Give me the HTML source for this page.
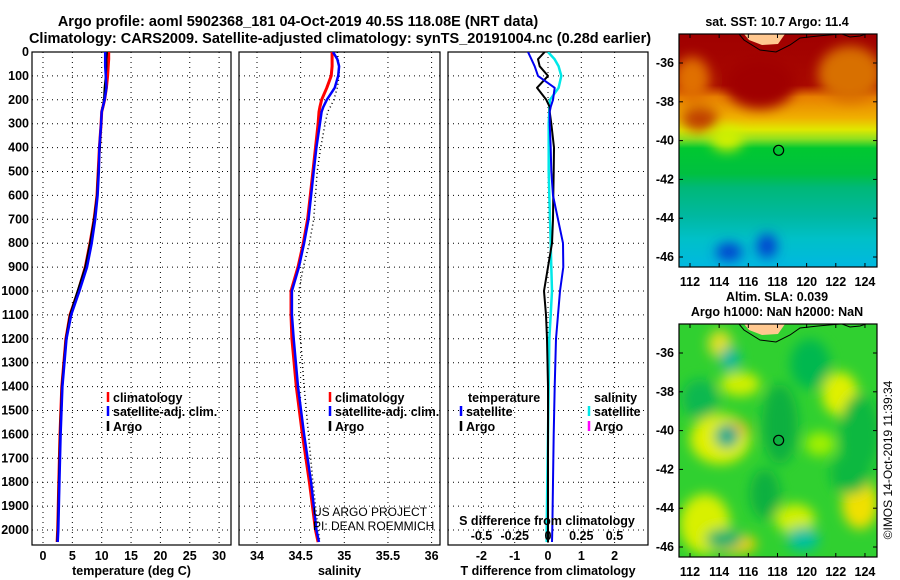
<!DOCTYPE html>
<html><head><meta charset="utf-8">
<style>
html,body{margin:0;padding:0;background:#fff;width:900px;height:580px;overflow:hidden;}
svg{display:block;font-family:"Liberation Sans",Arial,sans-serif;overflow:hidden;}
.b{font-weight:bold;}
</style></head>
<body>
<svg id="chart" width="900" height="580" viewBox="0 0 900 580" xmlns="http://www.w3.org/2000/svg">
<defs>
<clipPath id="cp1"><rect x="32" y="52" width="199" height="493"/></clipPath>
<clipPath id="cp2"><rect x="239" y="52" width="201" height="493"/></clipPath>
<clipPath id="cp3"><rect x="448" y="52" width="200" height="493"/></clipPath>
<clipPath id="cm1"><rect x="679" y="34" width="198" height="233"/></clipPath>
<clipPath id="cm2"><rect x="679" y="324" width="198" height="233"/></clipPath>
<linearGradient id="sstg" x1="0" y1="0" x2="0" y2="1">
<stop offset="0" stop-color="#a00000"/><stop offset="0.22" stop-color="#a80800"/>
<stop offset="0.27" stop-color="#e88000"/><stop offset="0.36" stop-color="#f0b000"/>
<stop offset="0.41" stop-color="#e0e800"/><stop offset="0.45" stop-color="#90e020"/>
<stop offset="0.49" stop-color="#00c830"/><stop offset="0.60" stop-color="#00c040"/>
<stop offset="0.66" stop-color="#00b878"/><stop offset="0.78" stop-color="#00b8a0"/>
<stop offset="0.88" stop-color="#00c0c8"/><stop offset="1" stop-color="#00b8e0"/></linearGradient>
<filter id="bl" x="-50%" y="-50%" width="200%" height="200%"><feGaussianBlur stdDeviation="6"/></filter>
</defs>
<text class="b" x="298" y="26" font-size="14.5" text-anchor="middle">Argo profile: aoml 5902368_181 04-Oct-2019 40.5S 118.08E (NRT data)</text>
<text class="b" x="340" y="43" font-size="14.5" text-anchor="middle">Climatology: CARS2009. Satellite-adjusted climatology: synTS_20191004.nc (0.28d earlier)</text>
<g id="axes"></g>
<g id="maps"></g>
<text x="892" y="460" font-size="12" text-anchor="middle" transform="rotate(-90 892 460)">©IMOS 14-Oct-2019 11:39:34</text>
</svg>
<script>
const depths = [0,30,60,100,150,200,230,250,300,400,500,600,700,800,900,1000,1100,1200,1400,1600,1800,2000,2050];
const tempClim = [11.2,11.2,11.1,11.0,10.8,10.5,10.2,10.0,9.9,9.6,9.4,9.2,8.7,8.0,7.2,6.0,4.6,3.9,3.2,2.9,2.7,2.5,2.4];
const tempSat  = [10.6,10.6,10.6,10.7,10.8,10.5,10.2,10.0,9.9,9.6,9.5,9.3,8.9,8.3,7.5,6.2,4.8,4.0,3.3,3.0,2.8,2.6,2.5];
const tempArgo = [10.9,10.8,10.8,10.7,10.5,10.4,10.2,10.0,9.9,9.7,9.4,9.2,8.7,8.0,7.2,5.9,4.6,3.9,3.2,2.9,2.7,2.5,2.4];
const salClim = [34.86,34.86,34.86,34.85,34.80,34.74,34.72,34.71,34.70,34.67,34.64,34.61,34.58,34.53,34.47,34.39,34.39,34.40,34.45,34.52,34.60,34.67,34.70];
const salSat  = [34.87,34.92,34.94,34.93,34.89,34.80,34.76,34.74,34.72,34.68,34.65,34.62,34.59,34.54,34.48,34.40,34.40,34.42,34.47,34.54,34.62,34.68,34.71];
const salArgo = [34.92,34.93,34.94,34.94,34.92,34.88,34.84,34.81,34.78,34.73,34.69,34.67,34.65,34.60,34.53,34.48,34.48,34.50,34.54,34.59,34.64,34.70,34.72];
const dTsat  = [-0.6,-0.5,-0.4,-0.3,0.2,0.15,0.08,0.05,0.05,0.08,0.1,0.15,0.3,0.45,0.46,0.36,0.3,0.24,0.2,0.17,0.15,0.13,0.12];
const dTargo = [-0.1,-0.3,-0.25,0,-0.33,-0.05,0.05,0.05,0.1,0.18,0.17,0.16,0.15,0.12,0,-0.12,-0.06,-0.03,0,0,0,0,0];
const dSsat  = [0,0.05,0.08,0.1,0.08,0.015,0.01,0.01,0.005,0.005,0.005,0.01,0.015,0.02,0.025,0.03,0.02,0.01,0.005,0,-0.005,-0.01,-0.01];
const depthTicks = [0,100,200,300,400,500,600,700,800,900,1000,1100,1200,1300,1400,1500,1600,1700,1800,1900,2000];
const tTicks = [0,5,10,15,20,25,30];
const sTicks = [34,34.5,35,35.5,36];
const dtTicks = [-2,-1,0,1,2];
const dsTicks = [-0.5,-0.25,0,0.25,0.5];
const dsTickLabels = ['-0.5','-0.25','0','0.25','0.5'];
const latTicks = [-36,-38,-40,-42,-44,-46];
const lonTicks = [112,114,116,118,120,122,124];

const NS="http://www.w3.org/2000/svg";
const axes=document.getElementById('axes');
function el(tag,attrs,parent,txt){const e=document.createElementNS(NS,tag);for(const k in attrs)e.setAttribute(k,attrs[k]);if(txt!==undefined)e.textContent=txt;(parent||axes).appendChild(e);return e;}
const yD=d=>52+d*0.239;
const xT=t=>43+t*5.87;
const xS=s=>257+(s-34)*87.3;
const xDT=v=>548+v*33.3;
const xDS=v=>548+v*133;

const panels=[{x:32,w:199,ticks:tTicks,f:xT,lab:'temperature (deg C)',name:'temperature-panel'},
{x:239,w:201,ticks:sTicks,f:xS,lab:'salinity',name:'salinity-panel'},
{x:448,w:200,ticks:dtTicks,f:xDT,lab:'T difference from climatology',name:'difference-panel'}];
panels.forEach(p=>{
  const g=el('g',{});
  
  
  depthTicks.forEach(d=>{const l=el('line',{x1:p.x,x2:p.x+p.w,y1:yD(d),y2:yD(d),stroke:'#000','stroke-width':1,'stroke-dasharray':'1,4'},g);
    
    });
  p.ticks.forEach((t,i)=>{const x=p.f(t);
    const l=el('line',{x1:x,x2:x,y1:52,y2:545,stroke:'#000','stroke-width':1,'stroke-dasharray':'1,4'},g);
    
    
    const tx=el('text',{x:x,y:560,'font-size':12.5,'text-anchor':'middle',class:'b'},g,String(t));
    
    });
  const r=el('rect',{x:p.x,y:52,width:p.w,height:493,fill:'none',stroke:'#000','stroke-width':1.2},g);
  
  
  const at=el('text',{x:p.x+p.w/2,y:575,'font-size':12.5,'text-anchor':'middle',class:'b'},g,p.lab);
  
  
});
depthTicks.forEach(d=>{const t=el('text',{x:29,y:yD(d)+4,'font-size':12.5,'text-anchor':'end',class:'b'},axes,String(d));
  
  });

function line(vals,f,clip,color,w,dash,name){
  const pts=vals.map((v,i)=>f(v).toFixed(1)+','+yD(depths[i]).toFixed(1)).join(' ');
  const a={points:pts,fill:'none',stroke:color,'stroke-width':w,'clip-path':'url(#'+clip+')','stroke-linejoin':'round'};
  if(dash)a['stroke-dasharray']=dash;
  const pl=el('polyline',a);
  
  
}
line(tempClim,xT,'cp1','#f00',3,null,'temperature-climatology-line');
line(tempArgo,xT,'cp1','#000',2,null,'temperature-argo-line');
line(tempSat,xT,'cp1','#00f',2.5,null,'temperature-satellite-line');
line(salClim,xS,'cp2','#f00',3,null,'salinity-climatology-line');
line(salArgo,xS,'cp2','#000',1.5,'1,3','salinity-argo-line');
line(salSat,xS,'cp2','#00f',2.5,null,'salinity-satellite-line');
line(dSsat,xDS,'cp3','#00e8e8',2.5,null,'salinity-satellite-difference-line');
line(dTargo,xDT,'cp3','#000',2,null,'temperature-argo-difference-line');
line(dTsat,xDT,'cp3','#0000f0',2,null,'temperature-satellite-difference-line');

const sdt=el('text',{x:547,y:525,'font-size':12.5,'text-anchor':'middle',class:'b'},axes,'S difference from climatology');


dsTicks.forEach((v,i)=>{const t=el('text',{x:xDS(v),y:540,'font-size':12.5,'text-anchor':'middle',class:'b'},axes,dsTickLabels[i]);
  
  });

function legend(x,y,color,label,name){
  const g=el('g',{});
  
  
  el('line',{x1:x,x2:x,y1:y-10,y2:y,stroke:color,'stroke-width':2.5},g);
  el('text',{x:x+5,y:y,'font-size':12.5,class:'b'},g,label);
}
legend(108,402,'#f00','climatology','legend-entry-climatology');
legend(108,416,'#00f','satellite-adj. clim.','legend-entry-satellite');
legend(108,431,'#000','Argo','legend-entry-argo');
legend(330,402,'#f00','climatology','legend-entry-climatology');
legend(330,416,'#00f','satellite-adj. clim.','legend-entry-satellite');
legend(330,431,'#000','Argo','legend-entry-argo');
const lt=el('text',{x:468,y:402,'font-size':12.5,class:'b'},axes,'temperature');


legend(461,416,'#00f','satellite','legend-entry-temp-satellite');
legend(461,431,'#000','Argo','legend-entry-temp-argo');
const ls=el('text',{x:594,y:402,'font-size':12.5,class:'b'},axes,'salinity');


legend(589,416,'#00e8e8','satellite','legend-entry-sal-satellite');
legend(589,431,'#f0f','Argo','legend-entry-sal-argo');
const c1=el('text',{x:313,y:516,'font-size':12},axes,'US ARGO PROJECT');


const c2=el('text',{x:313,y:530,'font-size':12},axes,'PI: DEAN ROEMMICH');



const maps=document.getElementById('maps');
const xL=lon=>690+(lon-112)*14.58;
function map(top,clip,kind,name){
  const g=el('g',{},maps);
  
  
  const yl=lat=>top+29+(-36-lat)*19.4;
  const inner=el('g',{'clip-path':'url(#'+clip+')'},g);
  if(kind==='sst'){
    el('rect',{x:679,y:top,width:198,height:233,fill:'url(#sstg)'},inner);
    const bl=el('g',{filter:'url(#bl)'},inner);
    el('ellipse',{cx:692,cy:top+45,rx:18,ry:22,fill:'#e07000'},bl);
    el('ellipse',{cx:850,cy:top+40,rx:32,ry:28,fill:'#d87000'},bl);
    el('ellipse',{cx:700,cy:top+85,rx:18,ry:12,fill:'#c04000'},bl);
    el('ellipse',{cx:760,cy:top+50,rx:35,ry:25,fill:'#a00000'},bl);
    el('ellipse',{cx:727,cy:top+105,rx:16,ry:12,fill:'#d0f000'},bl);
    el('ellipse',{cx:729,cy:top+218,rx:13,ry:9,fill:'#0040d0'},bl);
    el('ellipse',{cx:767,cy:top+212,rx:10,ry:12,fill:'#0040d0'},bl);
  } else {
    el('rect',{x:679,y:top,width:198,height:233,fill:'#30d030'},inner);
    const bl=el('g',{filter:'url(#bl)'},inner);
    [[720,115,30,25,'#e0f000'],[705,200,25,30,'#d8f000'],[840,70,18,22,'#e0f000'],[860,180,18,25,'#f0e000'],[795,195,20,15,'#d0f000'],[740,60,20,12,'#d0f000'],[735,105,14,8,'#f0c000'],[820,120,15,12,'#a0f000'],[720,20,12,14,'#e0e020'],[780,90,8,14,'#d0f000'],[735,220,22,10,'#f0d000']].forEach(b=>el('ellipse',{cx:b[0],cy:top+b[1],rx:b[2],ry:b[3],fill:b[4]},bl));
    [[730,35,10,12,'#00b8a0'],[727,112,12,12,'#00a890'],[724,215,18,10,'#00b070'],[803,215,16,12,'#00c0a0'],[810,40,20,25,'#00b850'],[700,75,18,20,'#10b850'],[780,100,18,40,'#10b040'],[860,110,20,40,'#10b840'],[765,170,15,25,'#10b040'],[850,150,20,20,'#10b840']].forEach(b=>el('ellipse',{cx:b[0],cy:top+b[1],rx:b[2],ry:b[3],fill:b[4]},bl));
  }
  el('path',{d:`M744 ${top} L749 ${top+6} L762 ${top+11} L778 ${top+10} L785 ${top} Z`,fill:'#ffc890'},inner);
  el('path',{d:`M739 ${top} L744 ${top+6} L760 ${top+16} L776 ${top+18} L790 ${top+11} L800 ${top+4} L818 ${top+2} L840 ${top} M842 ${top} L850 ${top+3} L860 ${top+2} L866 ${top}`,fill:'none',stroke:'#000','stroke-width':1},inner);
  const cc=el('circle',{cx:xL(118.08),cy:yl(-40.5),r:5,fill:'none',stroke:'#000','stroke-width':1.2},g);
  
  
  el('rect',{x:679,y:top,width:198,height:233,fill:'none',stroke:'#000','stroke-width':1.2},g);
  latTicks.forEach(l=>{const y=yl(l);
    el('line',{x1:877,x2:873,y1:y,y2:y,stroke:'#000'},g);
    el('line',{x1:679,x2:683,y1:y,y2:y,stroke:'#000'},g);
    const t=el('text',{x:674,y:y+4,'font-size':12.5,'text-anchor':'end',class:'b'},g,String(l));
    
    });
  lonTicks.forEach(l=>{const x=xL(l);
    el('line',{x1:x,x2:x,y1:top,y2:top+4,stroke:'#000'},g);
    el('line',{x1:x,x2:x,y1:top+233,y2:top+229,stroke:'#000'},g);
    const t=el('text',{x:x,y:top+252,'font-size':12.5,'text-anchor':'middle',class:'b'},g,String(l));
    
    });
}
map(34,'cm1','sst','sst-map');
map(324,'cm2','sla','sla-map');
const mt1=el('text',{x:777,y:26,'font-size':12.5,'text-anchor':'middle',class:'b'},maps,'sat. SST: 10.7 Argo: 11.4');


const mt2=el('text',{x:777,y:301,'font-size':12.5,'text-anchor':'middle',class:'b'},maps,'Altim. SLA: 0.039');


const mt3=el('text',{x:777,y:316,'font-size':12.5,'text-anchor':'middle',class:'b'},maps,'Argo h1000: NaN h2000: NaN');


</script>
</body></html>
